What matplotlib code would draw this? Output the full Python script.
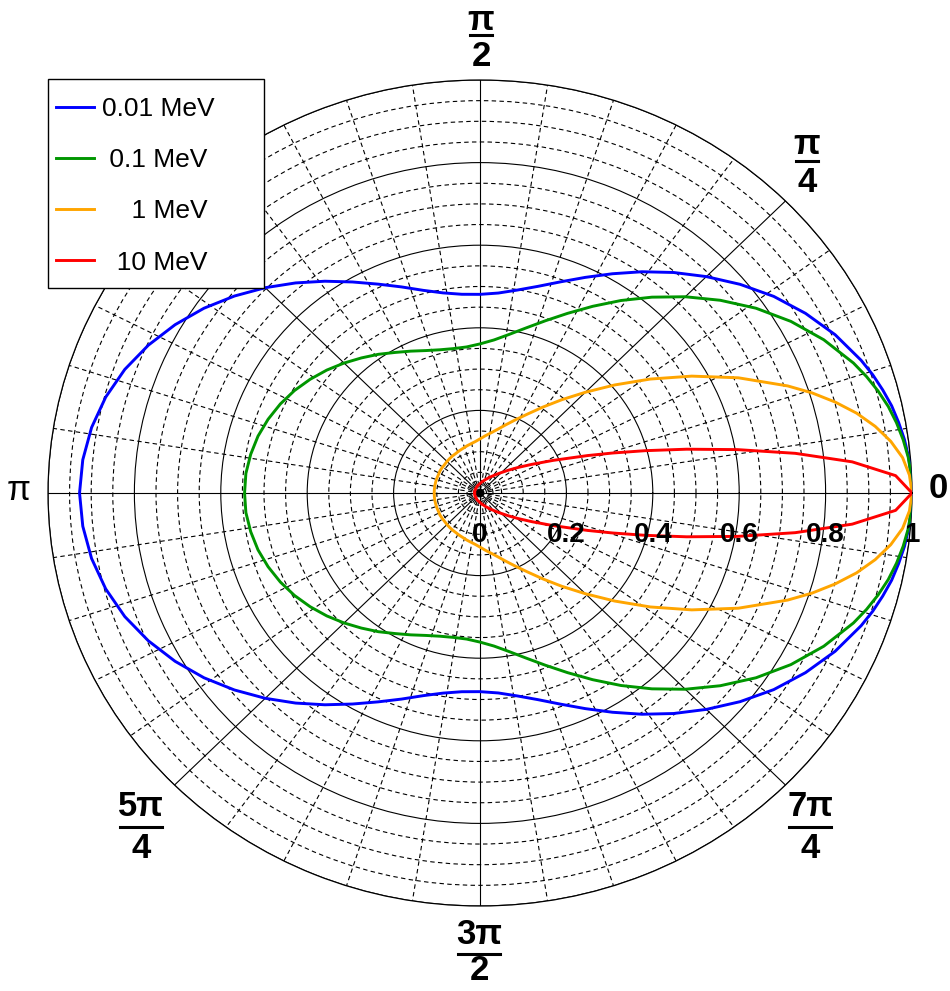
import numpy as np
import matplotlib
matplotlib.use('Agg')
import matplotlib.pyplot as plt
from matplotlib.lines import Line2D
from matplotlib.patches import Rectangle
from matplotlib.transforms import offset_copy

plt.rcParams['font.family'] = ['Liberation Sans', 'DejaVu Sans']

# angles (deg) of the sampled points, upper half; lower half is the mirror image
angle_deg = np.array([0, 2.5, 5, 7.5, 10, 12.5, 15, 17.5, 20, 25, 30, 35, 40, 45, 50,
                      55, 60, 65, 70, 75, 80, 85, 90, 95, 100, 105, 110, 115, 120, 125,
                      130, 135, 140, 145, 150, 155, 160, 165, 170, 175, 180])

r_001 = [1.000, 0.999, 0.996, 0.991, 0.984, 0.976, 0.965, 0.953, 0.939, 0.907, 0.870, 0.830, 0.786, 0.741, 0.697,
         0.654, 0.613, 0.576, 0.544, 0.518, 0.499, 0.486, 0.481, 0.483, 0.492, 0.508, 0.531, 0.558, 0.590, 0.626,
         0.664, 0.703, 0.742, 0.780, 0.815, 0.847, 0.875, 0.897, 0.913, 0.923, 0.927]
r_01 = [1.000, 0.999, 0.995, 0.988, 0.979, 0.968, 0.954, 0.938, 0.920, 0.878, 0.831, 0.780, 0.726, 0.672, 0.619,
        0.569, 0.522, 0.480, 0.444, 0.414, 0.390, 0.372, 0.361, 0.355, 0.355, 0.359, 0.367, 0.379, 0.393, 0.410,
        0.427, 0.445, 0.463, 0.480, 0.496, 0.510, 0.522, 0.532, 0.539, 0.544, 0.545]
r_1 = [1.000, 0.995, 0.982, 0.959, 0.929, 0.893, 0.851, 0.806, 0.758, 0.660, 0.566, 0.481, 0.407, 0.345, 0.295,
       0.254, 0.221, 0.196, 0.176, 0.160, 0.148, 0.139, 0.131, 0.125, 0.121, 0.118, 0.115, 0.113, 0.111, 0.110,
       0.109, 0.108, 0.107, 0.107, 0.107, 0.106, 0.106, 0.106, 0.106, 0.106, 0.106]
r_10 = [1.000, 0.963, 0.865, 0.736, 0.605, 0.490, 0.396, 0.322, 0.265, 0.187, 0.139, 0.108, 0.086, 0.070, 0.059,
        0.050, 0.044, 0.038, 0.034, 0.030, 0.028, 0.025, 0.023, 0.021, 0.020, 0.019, 0.018, 0.017, 0.016, 0.015,
        0.015, 0.014, 0.014, 0.014, 0.013, 0.013, 0.013, 0.013, 0.013, 0.012, 0.012]

SERIES = [('0.01 MeV', r_001, '#0000ff'),
          (' 0.1 MeV', r_01, '#009600'),
          ('    1 MeV', r_1, '#ffa500'),
          ('  10 MeV', r_10, '#ff0000')]

W, H = 950, 991


def px(x, y):
    return x / W, 1 - y / H


fig = plt.figure(figsize=(W / 100, H / 100), dpi=100)
ax = fig.add_axes([48 / W, 1 - 906 / H, 864 / W, 826 / H], projection='polar')
ax.set_aspect('auto')
ax.set_ylim(0, 1)

ax.set_xticks(np.deg2rad(np.arange(0, 360, 45)))
ax.set_xticks(np.deg2rad([a for a in range(0, 360, 9) if a % 45]), minor=True)
ax.set_yticks([0.2, 0.4, 0.6, 0.8, 1.0])
ax.set_yticks([0.015, 0.03] + [v / 100 for v in range(5, 100, 5) if v % 20], minor=True)
ax.set_xticklabels([])
ax.set_yticklabels([])
ax.tick_params(which='both', length=0)
ax.grid(which='major', color='black', linestyle='-', linewidth=0.8)
ax.grid(which='minor', color='black', linestyle=(0, (4, 3)), linewidth=0.8)
ax.set_axisbelow(True)
ax.spines['polar'].set_linewidth(0.9)

theta_full = np.deg2rad(np.concatenate([angle_deg, 360 - angle_deg[::-1][1:]]))
lines = []
for label, r, c in SERIES:
    r = np.asarray(r)
    r_full = np.concatenate([r, r[::-1][1:]])
    ln, = ax.plot(theta_full, r_full, color=c, lw=2.1, label=label, zorder=3)
    lines.append(ln)

# radial axis labels
lab_tr = offset_copy(ax.transData, fig=fig, x=0, y=-42, units='dots')
for v, s in zip([0, 0.2, 0.4, 0.6, 0.8, 1.0], ['0', '0.2', '0.4', '0.6', '0.8', '1']):
    ax.text(0, v, s, transform=lab_tr, ha='center', va='center',
            fontsize=20, fontweight='bold', zorder=4)


# angular labels
def frac_label(cx, num, den, y_num, y_bar, y_den, half):
    fig.text(*px(cx, y_num), num, ha='center', va='center', fontsize=25, fontweight='bold')
    fig.text(*px(cx, y_den), den, ha='center', va='center', fontsize=25, fontweight='bold')
    x0, y0 = px(cx - half, y_bar)
    x1, _ = px(cx + half, y_bar)
    fig.add_artist(Line2D([x0, x1], [y0, y0], color='black', lw=2.2, transform=fig.transFigure))


frac_label(481, 'π', '2', 21, 35, 56, 11)
frac_label(807, 'π', '4', 145, 161, 183, 11)
frac_label(141, '5π', '4', 806, 827, 849, 21)
frac_label(810, '7π', '4', 806, 827, 849, 21)
frac_label(479, '3π', '2', 935, 954, 971, 21)
fig.text(*px(19, 491), 'π', ha='center', va='center', fontsize=25)
fig.text(*px(938, 489), '0', ha='center', va='center', fontsize=25, fontweight='bold')

# legend: white box with black border, entries placed inside
x0, y0 = px(48, 288)
fig.add_artist(Rectangle((x0, y0), 216 / W, 209 / H, transform=fig.transFigure,
                         facecolor='white', edgecolor='black', lw=1.0, zorder=9))
leg = fig.legend(lines, [s[0] for s in SERIES], loc='upper left', bbox_to_anchor=px(56, 97),
                 bbox_transform=fig.transFigure, borderaxespad=0, borderpad=0, frameon=False,
                 fontsize=19, handlelength=1.45, handletextpad=0.3, labelspacing=1.03)
leg.set_zorder(10)

fig.savefig('out.png', dpi=100)
